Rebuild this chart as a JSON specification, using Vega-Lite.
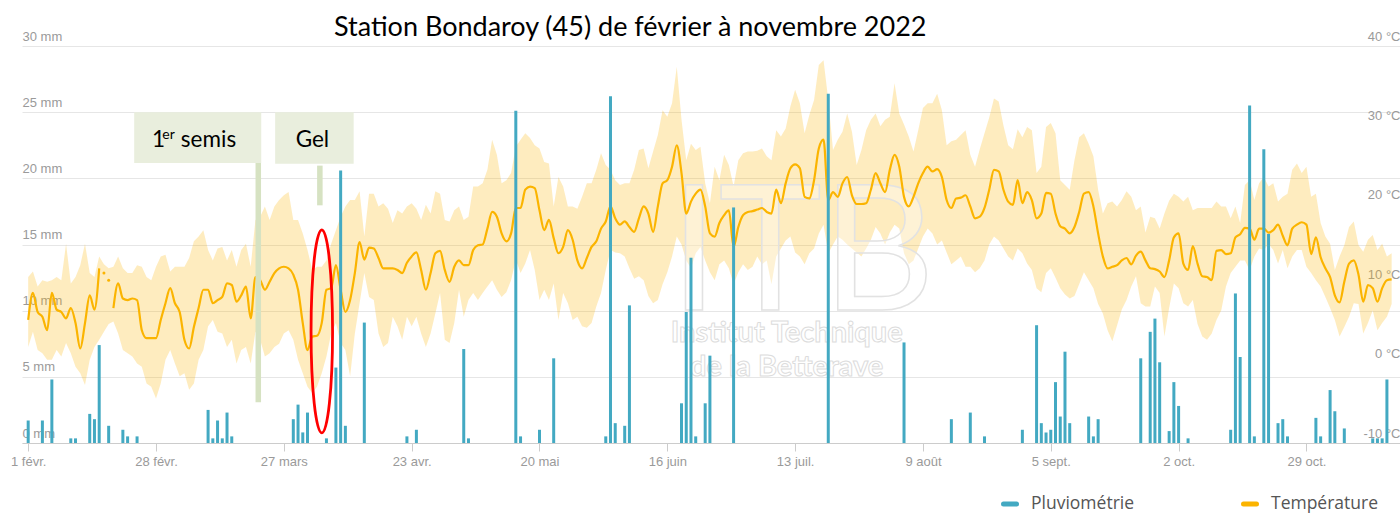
{
"$schema":"https://vega.github.io/schema/vega-lite/v6.json",
"width":1378,"height":397,
"autosize":{"type":"none"},
"padding":{"left":22,"top":46,"right":0,"bottom":70},
"background":"white",
"config":{"view":{"stroke":null},"font":"Liberation Sans"},
"title":{"text":"Station Bondaroy (45) de février à novembre 2022","anchor":"start","frame":"group","dx":312,"font":"Lato","fontSize":27,"fontWeight":"normal","color":"#000000","offset":-33,"baseline":"alphabetic"},
"datasets":{
"temp":[
{"d":"2022-02-01","t":5.5,"lo":2.1,"hi":10.9},{"d":"2022-02-02","t":8.9,"lo":4.0,"hi":11.6},{"d":"2022-02-03","t":6.5,"lo":1.7,"hi":9.7},{"d":"2022-02-04","t":5.9,"lo":1.3,"hi":10.5},{"d":"2022-02-05","t":4.2,"lo":0.5,"hi":10.3},{"d":"2022-02-06","t":8.9,"lo":0.5,"hi":10.5},{"d":"2022-02-07","t":6.8,"lo":1.7,"hi":10.9},{"d":"2022-02-08","t":6.5,"lo":0.9,"hi":10.5},{"d":"2022-02-09","t":5.7,"lo":2.6,"hi":15.1},{"d":"2022-02-10","t":7.0,"lo":1.3,"hi":10.1},{"d":"2022-02-11","t":5.1,"lo":-0.4,"hi":10.9},{"d":"2022-02-12","t":1.9,"lo":-1.2,"hi":12.4},{"d":"2022-02-13","t":5.1,"lo":-2.7,"hi":15.1},{"d":"2022-02-14","t":8.6,"lo":0.5,"hi":11.4},{"d":"2022-02-15","t":6.8,"lo":2.1,"hi":10.9},{"d":"2022-02-16","t":12.0,"lo":3.0,"hi":13.5},{"d":"2022-02-17","t":null,"lo":4.0,"hi":12.5},{"d":"2022-02-18","t":null,"lo":5.0,"hi":12.0},{"d":"2022-02-19","t":7.0,"lo":5.3,"hi":12.2},{"d":"2022-02-20","t":10.1,"lo":3.8,"hi":13.5},{"d":"2022-02-21","t":8.2,"lo":1.7,"hi":12.0},{"d":"2022-02-22","t":8.0,"lo":1.3,"hi":11.4},{"d":"2022-02-23","t":8.2,"lo":0.9,"hi":11.4},{"d":"2022-02-24","t":8.0,"lo":0.0,"hi":12.4},{"d":"2022-02-25","t":4.2,"lo":-0.4,"hi":12.2},{"d":"2022-02-26","t":3.2,"lo":-2.5,"hi":10.9},{"d":"2022-02-27","t":3.2,"lo":-2.9,"hi":10.5},{"d":"2022-02-28","t":3.2,"lo":-4.4,"hi":12.2},
{"d":"2022-03-01","t":5.5,"lo":-2.5,"hi":13.5},{"d":"2022-03-02","t":7.6,"lo":0.5,"hi":13.7},{"d":"2022-03-03","t":9.5,"lo":1.7,"hi":11.6},{"d":"2022-03-04","t":7.6,"lo":0.0,"hi":12.2},{"d":"2022-03-05","t":6.5,"lo":-1.6,"hi":12.2},{"d":"2022-03-06","t":3.0,"lo":-1.2,"hi":12.2},{"d":"2022-03-07","t":1.9,"lo":-3.3,"hi":13.3},{"d":"2022-03-08","t":4.6,"lo":-2.5,"hi":15.4},{"d":"2022-03-09","t":7.0,"lo":0.5,"hi":16.0},{"d":"2022-03-10","t":9.3,"lo":1.7,"hi":16.8},{"d":"2022-03-11","t":9.3,"lo":4.7,"hi":14.3},{"d":"2022-03-12","t":7.6,"lo":5.5,"hi":13.0},{"d":"2022-03-13","t":8.0,"lo":4.0,"hi":14.5},{"d":"2022-03-14","t":8.4,"lo":3.8,"hi":14.7},{"d":"2022-03-15","t":10.1,"lo":2.1,"hi":13.0},{"d":"2022-03-16","t":9.9,"lo":3.0,"hi":14.3},{"d":"2022-03-17","t":7.8,"lo":0.0,"hi":12.2},{"d":"2022-03-18","t":8.6,"lo":1.7,"hi":14.3},{"d":"2022-03-19","t":9.7,"lo":2.1,"hi":15.1},{"d":"2022-03-20","t":5.7,"lo":0.0,"hi":12.2},{"d":"2022-03-21","t":10.9,"lo":4.0,"hi":18.1},{"d":"2022-03-22","t":10.5,"lo":3.0,"hi":18.5},{"d":"2022-03-23","t":9.3,"lo":0.9,"hi":19.8},{"d":"2022-03-24","t":10.3,"lo":1.3,"hi":18.1},{"d":"2022-03-25","t":11.4,"lo":2.1,"hi":19.8},{"d":"2022-03-26","t":12.0,"lo":2.5,"hi":20.6},{"d":"2022-03-27","t":12.2,"lo":3.8,"hi":21.2},{"d":"2022-03-28","t":12.0,"lo":4.2,"hi":21.6},{"d":"2022-03-29","t":11.2,"lo":3.0,"hi":18.1},{"d":"2022-03-30","t":9.3,"lo":0.5,"hi":18.1},{"d":"2022-03-31","t":5.1,"lo":-1.2,"hi":16.4},
{"d":"2022-04-01","t":1.7,"lo":-2.9,"hi":14.3},{"d":"2022-04-02","t":3.4,"lo":-3.7,"hi":11.8},{"d":"2022-04-03","t":3.5,"lo":-2.9,"hi":12.2},{"d":"2022-04-04","t":5.1,"lo":-1.2,"hi":12.2},{"d":"2022-04-05","t":9.3,"lo":0.9,"hi":13.0},{"d":"2022-04-06","t":9.5,"lo":3.8,"hi":15.1},{"d":"2022-04-07","t":12.4,"lo":5.1,"hi":16.8},{"d":"2022-04-08","t":9.3,"lo":2.6,"hi":18.5},{"d":"2022-04-09","t":6.5,"lo":1.7,"hi":19.8},{"d":"2022-04-10","t":8.0,"lo":-1.6,"hi":20.6},{"d":"2022-04-11","t":11.4,"lo":3.8,"hi":20.6},{"d":"2022-04-12","t":15.3,"lo":7.6,"hi":21.7},{"d":"2022-04-13","t":13.1,"lo":11.4,"hi":16.0},{"d":"2022-04-14","t":14.6,"lo":8.4,"hi":21.4},{"d":"2022-04-15","t":14.5,"lo":8.0,"hi":21.4},{"d":"2022-04-16","t":13.3,"lo":3.8,"hi":19.8},{"d":"2022-04-17","t":12.0,"lo":2.1,"hi":20.2},{"d":"2022-04-18","t":12.0,"lo":2.6,"hi":19.5},{"d":"2022-04-19","t":12.0,"lo":5.9,"hi":17.7},{"d":"2022-04-20","t":11.8,"lo":4.7,"hi":19.3},{"d":"2022-04-21","t":11.4,"lo":3.0,"hi":18.9},{"d":"2022-04-22","t":12.7,"lo":5.9,"hi":19.8},{"d":"2022-04-23","t":13.5,"lo":4.7,"hi":20.2},{"d":"2022-04-24","t":14.0,"lo":5.9,"hi":19.5},{"d":"2022-04-25","t":11.8,"lo":3.8,"hi":18.1},{"d":"2022-04-26","t":9.3,"lo":2.1,"hi":20.0},{"d":"2022-04-27","t":11.4,"lo":3.8,"hi":18.9},{"d":"2022-04-28","t":13.9,"lo":6.3,"hi":21.7},{"d":"2022-04-29","t":14.2,"lo":8.9,"hi":21.4},{"d":"2022-04-30","t":11.8,"lo":3.0,"hi":18.1},
{"d":"2022-05-01","t":10.3,"lo":2.6,"hi":17.9},{"d":"2022-05-02","t":12.2,"lo":5.1,"hi":19.3},{"d":"2022-05-03","t":13.0,"lo":9.3,"hi":19.8},{"d":"2022-05-04","t":12.4,"lo":5.9,"hi":18.1},{"d":"2022-05-05","t":12.4,"lo":8.0,"hi":18.5},{"d":"2022-05-06","t":14.3,"lo":8.9,"hi":22.3},{"d":"2022-05-07","t":14.9,"lo":8.0,"hi":22.3},{"d":"2022-05-08","t":15.0,"lo":8.9,"hi":22.7},{"d":"2022-05-09","t":17.0,"lo":9.7,"hi":24.4},{"d":"2022-05-10","t":19.1,"lo":10.5,"hi":28.2},{"d":"2022-05-11","t":18.5,"lo":9.3,"hi":26.3},{"d":"2022-05-12","t":16.4,"lo":8.4,"hi":22.7},{"d":"2022-05-13","t":15.4,"lo":9.0,"hi":23.1},{"d":"2022-05-14","t":16.4,"lo":10.5,"hi":24.0},{"d":"2022-05-15","t":19.6,"lo":13.1,"hi":27.3},{"d":"2022-05-16","t":19.6,"lo":11.4,"hi":28.2},{"d":"2022-05-17","t":21.9,"lo":12.6,"hi":29.0},{"d":"2022-05-18","t":22.3,"lo":14.3,"hi":28.4},{"d":"2022-05-19","t":22.1,"lo":11.8,"hi":27.5},{"d":"2022-05-20","t":19.3,"lo":8.0,"hi":27.1},{"d":"2022-05-21","t":16.8,"lo":9.3,"hi":25.4},{"d":"2022-05-22","t":18.1,"lo":8.0,"hi":25.2},{"d":"2022-05-23","t":15.8,"lo":10.1,"hi":19.8},{"d":"2022-05-24","t":13.9,"lo":5.5,"hi":23.5},{"d":"2022-05-25","t":14.7,"lo":8.9,"hi":22.3},{"d":"2022-05-26","t":16.8,"lo":7.6,"hi":19.8},{"d":"2022-05-27","t":15.6,"lo":5.5,"hi":19.8},{"d":"2022-05-28","t":13.0,"lo":5.9,"hi":19.5},{"d":"2022-05-29","t":12.0,"lo":4.7,"hi":21.0},{"d":"2022-05-30","t":13.3,"lo":4.5,"hi":22.7},{"d":"2022-05-31","t":14.7,"lo":5.1,"hi":22.7},
{"d":"2022-06-01","t":15.4,"lo":7.2,"hi":24.4},{"d":"2022-06-02","t":17.0,"lo":8.9,"hi":26.5},{"d":"2022-06-03","t":17.9,"lo":11.8,"hi":25.0},{"d":"2022-06-04","t":19.8,"lo":14.3,"hi":24.4},{"d":"2022-06-05","t":18.3,"lo":14.0,"hi":23.1},{"d":"2022-06-06","t":17.5,"lo":13.9,"hi":22.5},{"d":"2022-06-07","t":17.9,"lo":13.5,"hi":22.7},{"d":"2022-06-08","t":17.2,"lo":12.0,"hi":22.7},{"d":"2022-06-09","t":16.6,"lo":10.7,"hi":24.4},{"d":"2022-06-10","t":18.3,"lo":11.0,"hi":26.9},{"d":"2022-06-11","t":19.8,"lo":10.5,"hi":27.1},{"d":"2022-06-12","t":18.9,"lo":8.5,"hi":24.6},{"d":"2022-06-13","t":16.6,"lo":7.6,"hi":26.7},{"d":"2022-06-14","t":19.8,"lo":8.0,"hi":28.8},{"d":"2022-06-15","t":22.7,"lo":10.0,"hi":31.9},{"d":"2022-06-16","t":23.1,"lo":11.5,"hi":31.1},{"d":"2022-06-17","t":24.8,"lo":13.5,"hi":32.8},{"d":"2022-06-18","t":27.5,"lo":16.0,"hi":37.4},{"d":"2022-06-19","t":24.0,"lo":15.0,"hi":30.7},{"d":"2022-06-20","t":18.9,"lo":13.0,"hi":25.6},{"d":"2022-06-21","t":20.4,"lo":12.0,"hi":27.7},{"d":"2022-06-22","t":21.4,"lo":13.9,"hi":26.9},{"d":"2022-06-23","t":21.9,"lo":14.7,"hi":27.3},{"d":"2022-06-24","t":19.8,"lo":13.0,"hi":22.7},{"d":"2022-06-25","t":16.4,"lo":11.5,"hi":20.2},{"d":"2022-06-26","t":16.0,"lo":10.5,"hi":24.8},{"d":"2022-06-27","t":17.7,"lo":12.5,"hi":23.1},{"d":"2022-06-28","t":18.7,"lo":13.0,"hi":26.3},{"d":"2022-06-29","t":19.3,"lo":12.0,"hi":25.0},{"d":"2022-06-30","t":14.7,"lo":10.0,"hi":22.3},
{"d":"2022-07-01","t":17.2,"lo":11.5,"hi":25.6},{"d":"2022-07-02","t":18.7,"lo":12.5,"hi":26.5},{"d":"2022-07-03","t":19.1,"lo":11.8,"hi":26.7},{"d":"2022-07-04","t":19.2,"lo":12.2,"hi":26.7},{"d":"2022-07-05","t":19.4,"lo":13.5,"hi":26.8},{"d":"2022-07-06","t":19.6,"lo":12.5,"hi":27.1},{"d":"2022-07-07","t":19.1,"lo":13.0,"hi":26.1},{"d":"2022-07-08","t":18.9,"lo":10.0,"hi":25.6},{"d":"2022-07-09","t":21.9,"lo":13.5,"hi":29.4},{"d":"2022-07-10","t":20.2,"lo":14.5,"hi":28.6},{"d":"2022-07-11","t":22.7,"lo":15.5,"hi":29.6},{"d":"2022-07-12","t":24.6,"lo":16.0,"hi":32.4},{"d":"2022-07-13","t":25.1,"lo":14.0,"hi":34.5},{"d":"2022-07-14","t":24.6,"lo":13.5,"hi":32.8},{"d":"2022-07-15","t":21.0,"lo":12.5,"hi":29.0},{"d":"2022-07-16","t":20.8,"lo":13.9,"hi":31.3},{"d":"2022-07-17","t":23.1,"lo":14.5,"hi":33.2},{"d":"2022-07-18","t":27.1,"lo":16.4,"hi":37.6},{"d":"2022-07-19","t":28.2,"lo":17.5,"hi":38.2},{"d":"2022-07-20","t":20.6,"lo":13.9,"hi":33.2},{"d":"2022-07-21","t":21.6,"lo":15.0,"hi":26.9},{"d":"2022-07-22","t":21.0,"lo":16.0,"hi":28.2},{"d":"2022-07-23","t":22.7,"lo":15.6,"hi":29.2},{"d":"2022-07-24","t":23.5,"lo":15.0,"hi":31.5},{"d":"2022-07-25","t":21.2,"lo":14.5,"hi":29.2},{"d":"2022-07-26","t":20.1,"lo":14.0,"hi":25.0},{"d":"2022-07-27","t":20.1,"lo":13.5,"hi":26.9},{"d":"2022-07-28","t":20.2,"lo":14.5,"hi":29.4},{"d":"2022-07-29","t":21.9,"lo":15.6,"hi":30.7},{"d":"2022-07-30","t":24.0,"lo":17.2,"hi":31.5},{"d":"2022-07-31","t":22.7,"lo":16.4,"hi":29.9},
{"d":"2022-08-01","t":21.6,"lo":15.0,"hi":30.7},{"d":"2022-08-02","t":24.4,"lo":16.5,"hi":31.1},{"d":"2022-08-03","t":26.3,"lo":17.5,"hi":35.3},{"d":"2022-08-04","t":24.8,"lo":17.0,"hi":31.5},{"d":"2022-08-05","t":21.0,"lo":13.9,"hi":30.1},{"d":"2022-08-06","t":19.8,"lo":12.5,"hi":28.6},{"d":"2022-08-07","t":21.0,"lo":13.0,"hi":26.7},{"d":"2022-08-08","t":22.7,"lo":14.5,"hi":29.4},{"d":"2022-08-09","t":24.0,"lo":16.0,"hi":32.2},{"d":"2022-08-10","t":24.8,"lo":17.0,"hi":32.8},{"d":"2022-08-11","t":24.2,"lo":16.4,"hi":32.8},{"d":"2022-08-12","t":24.5,"lo":15.0,"hi":34.0},{"d":"2022-08-13","t":23.5,"lo":15.5,"hi":31.9},{"d":"2022-08-14","t":20.6,"lo":14.0,"hi":27.5},{"d":"2022-08-15","t":19.6,"lo":12.5,"hi":28.0},{"d":"2022-08-16","t":20.8,"lo":13.0,"hi":28.2},{"d":"2022-08-17","t":20.9,"lo":13.5,"hi":28.8},{"d":"2022-08-18","t":21.2,"lo":12.2,"hi":29.4},{"d":"2022-08-19","t":19.8,"lo":12.2,"hi":26.3},{"d":"2022-08-20","t":18.3,"lo":11.5,"hi":24.8},{"d":"2022-08-21","t":18.5,"lo":12.0,"hi":27.0},{"d":"2022-08-22","t":19.6,"lo":13.0,"hi":29.0},{"d":"2022-08-23","t":21.9,"lo":15.0,"hi":31.0},{"d":"2022-08-24","t":24.4,"lo":16.0,"hi":33.4},{"d":"2022-08-25","t":24.2,"lo":15.5,"hi":33.0},{"d":"2022-08-26","t":21.9,"lo":14.5,"hi":30.0},{"d":"2022-08-27","t":20.4,"lo":13.5,"hi":27.5},{"d":"2022-08-28","t":20.0,"lo":13.0,"hi":27.0},{"d":"2022-08-29","t":23.1,"lo":14.5,"hi":29.5},{"d":"2022-08-30","t":20.2,"lo":13.9,"hi":28.5},{"d":"2022-08-31","t":21.6,"lo":12.6,"hi":29.8},
{"d":"2022-09-01","t":20.6,"lo":11.8,"hi":29.4},{"d":"2022-09-02","t":18.3,"lo":9.5,"hi":24.0},{"d":"2022-09-03","t":18.9,"lo":9.0,"hi":24.8},{"d":"2022-09-04","t":21.5,"lo":11.4,"hi":29.8},{"d":"2022-09-05","t":21.4,"lo":12.0,"hi":30.3},{"d":"2022-09-06","t":18.9,"lo":10.8,"hi":29.0},{"d":"2022-09-07","t":17.3,"lo":9.5,"hi":23.1},{"d":"2022-09-08","t":17.0,"lo":8.7,"hi":22.5},{"d":"2022-09-09","t":16.4,"lo":8.2,"hi":21.9},{"d":"2022-09-10","t":17.2,"lo":8.5,"hi":25.6},{"d":"2022-09-11","t":19.1,"lo":10.0,"hi":28.5},{"d":"2022-09-12","t":21.4,"lo":11.5,"hi":29.0},{"d":"2022-09-13","t":21.6,"lo":10.5,"hi":27.7},{"d":"2022-09-14","t":19.8,"lo":9.5,"hi":26.1},{"d":"2022-09-15","t":16.4,"lo":7.5,"hi":21.9},{"d":"2022-09-16","t":13.5,"lo":6.3,"hi":18.9},{"d":"2022-09-17","t":12.0,"lo":4.2,"hi":20.2},{"d":"2022-09-18","t":12.2,"lo":2.8,"hi":20.4},{"d":"2022-09-19","t":12.4,"lo":4.8,"hi":19.8},{"d":"2022-09-20","t":13.0,"lo":6.8,"hi":20.6},{"d":"2022-09-21","t":13.3,"lo":8.0,"hi":21.7},{"d":"2022-09-22","t":12.5,"lo":9.7,"hi":21.0},{"d":"2022-09-23","t":13.6,"lo":11.0,"hi":19.3},{"d":"2022-09-24","t":14.1,"lo":7.6,"hi":19.8},{"d":"2022-09-25","t":13.0,"lo":7.2,"hi":16.5},{"d":"2022-09-26","t":12.0,"lo":7.2,"hi":18.5},{"d":"2022-09-27","t":11.9,"lo":9.7,"hi":18.3},{"d":"2022-09-28","t":11.6,"lo":8.9,"hi":17.0},{"d":"2022-09-29","t":10.9,"lo":3.4,"hi":18.9},{"d":"2022-09-30","t":13.0,"lo":7.0,"hi":20.5},
{"d":"2022-10-01","t":15.9,"lo":10.1,"hi":21.4},{"d":"2022-10-02","t":16.4,"lo":9.5,"hi":21.0},{"d":"2022-10-03","t":12.6,"lo":7.6,"hi":20.4},{"d":"2022-10-04","t":11.8,"lo":7.2,"hi":21.0},{"d":"2022-10-05","t":14.8,"lo":8.0,"hi":19.3},{"d":"2022-10-06","t":12.6,"lo":5.0,"hi":19.6},{"d":"2022-10-07","t":11.0,"lo":3.4,"hi":19.6},{"d":"2022-10-08","t":10.9,"lo":3.0,"hi":19.6},{"d":"2022-10-09","t":10.5,"lo":3.8,"hi":19.6},{"d":"2022-10-10","t":14.2,"lo":5.5,"hi":20.4},{"d":"2022-10-11","t":14.3,"lo":6.7,"hi":19.8},{"d":"2022-10-12","t":13.8,"lo":9.7,"hi":19.8},{"d":"2022-10-13","t":13.9,"lo":11.4,"hi":18.3},{"d":"2022-10-14","t":15.9,"lo":12.2,"hi":19.8},{"d":"2022-10-15","t":16.3,"lo":13.0,"hi":17.7},{"d":"2022-10-16","t":17.1,"lo":13.0,"hi":22.5},{"d":"2022-10-17","t":17.0,"lo":11.8,"hi":23.1},{"d":"2022-10-18","t":15.6,"lo":13.5,"hi":20.6},{"d":"2022-10-19","t":17.0,"lo":14.5,"hi":22.7},{"d":"2022-10-20","t":17.0,"lo":14.3,"hi":23.5},{"d":"2022-10-21","t":16.5,"lo":15.1,"hi":22.3},{"d":"2022-10-22","t":16.8,"lo":14.3,"hi":22.7},{"d":"2022-10-23","t":17.5,"lo":12.6,"hi":20.4},{"d":"2022-10-24","t":16.1,"lo":14.3,"hi":21.0},{"d":"2022-10-25","t":14.9,"lo":12.0,"hi":21.4},{"d":"2022-10-26","t":17.0,"lo":13.5,"hi":24.4},{"d":"2022-10-27","t":17.5,"lo":14.3,"hi":25.2},{"d":"2022-10-28","t":17.8,"lo":14.3,"hi":24.0},{"d":"2022-10-29","t":17.5,"lo":12.2,"hi":24.8},{"d":"2022-10-30","t":13.8,"lo":11.4,"hi":21.0},{"d":"2022-10-31","t":15.9,"lo":10.5,"hi":21.4},
{"d":"2022-11-01","t":13.4,"lo":9.7,"hi":17.7},{"d":"2022-11-02","t":12.0,"lo":8.4,"hi":16.0},{"d":"2022-11-03","t":10.9,"lo":7.0,"hi":15.1},{"d":"2022-11-04","t":8.6,"lo":5.5,"hi":11.8},{"d":"2022-11-05","t":7.7,"lo":3.4,"hi":13.5},{"d":"2022-11-06","t":10.3,"lo":4.6,"hi":14.9},{"d":"2022-11-07","t":12.6,"lo":5.9,"hi":17.2},{"d":"2022-11-08","t":13.0,"lo":7.6,"hi":17.9},{"d":"2022-11-09","t":11.2,"lo":7.5,"hi":14.9},{"d":"2022-11-10","t":7.8,"lo":3.8,"hi":14.1},{"d":"2022-11-11","t":9.9,"lo":5.1,"hi":15.6},{"d":"2022-11-12","t":9.5,"lo":6.7,"hi":16.2},{"d":"2022-11-13","t":7.8,"lo":4.2,"hi":14.3},{"d":"2022-11-14","t":9.5,"lo":5.1,"hi":15.1},{"d":"2022-11-15","t":10.5,"lo":5.9,"hi":13.5},{"d":"2022-11-16","t":10.6,"lo":7.5,"hi":13.9}
],
"gap":[{"d":"2022-02-17","t":11.4},{"d":"2022-02-18","t":10.5}],
"rain":[
{"d":"2022-02-01","mm":1.7},{"d":"2022-02-04","mm":1.7},{"d":"2022-02-06","mm":4.8},{"d":"2022-02-10","mm":0.35},{"d":"2022-02-11","mm":0.35},{"d":"2022-02-14","mm":2.2},{"d":"2022-02-15","mm":1.8},{"d":"2022-02-16","mm":7.4},{"d":"2022-02-18","mm":1.3},{"d":"2022-02-21","mm":1.0},{"d":"2022-02-22","mm":0.5},{"d":"2022-02-24","mm":0.5},
{"d":"2022-03-11","mm":2.5},{"d":"2022-03-12","mm":0.35},{"d":"2022-03-13","mm":1.7},{"d":"2022-03-14","mm":0.35},{"d":"2022-03-15","mm":2.3},{"d":"2022-03-16","mm":0.5},{"d":"2022-03-29","mm":1.8},{"d":"2022-03-30","mm":2.9},{"d":"2022-03-31","mm":0.8},
{"d":"2022-04-01","mm":2.3},{"d":"2022-04-05","mm":0.35},{"d":"2022-04-07","mm":5.7},{"d":"2022-04-08","mm":20.6},{"d":"2022-04-09","mm":1.3},{"d":"2022-04-13","mm":9.1},{"d":"2022-04-22","mm":0.5},{"d":"2022-04-24","mm":1.0},
{"d":"2022-05-04","mm":7.1},{"d":"2022-05-05","mm":0.35},{"d":"2022-05-15","mm":25.1},{"d":"2022-05-16","mm":0.5},{"d":"2022-05-20","mm":1.0},{"d":"2022-05-23","mm":6.4},
{"d":"2022-06-03","mm":0.5},{"d":"2022-06-04","mm":26.2},{"d":"2022-06-05","mm":1.5},{"d":"2022-06-07","mm":1.3},{"d":"2022-06-08","mm":10.4},{"d":"2022-06-19","mm":3.0},{"d":"2022-06-20","mm":9.9},{"d":"2022-06-21","mm":14.0},{"d":"2022-06-22","mm":0.5},{"d":"2022-06-24","mm":3.0},{"d":"2022-06-25","mm":6.6},{"d":"2022-06-30","mm":17.8},
{"d":"2022-07-20","mm":26.4},
{"d":"2022-08-05","mm":7.6},{"d":"2022-08-15","mm":1.8},{"d":"2022-08-19","mm":2.3},{"d":"2022-08-22","mm":0.5},{"d":"2022-08-30","mm":1.0},
{"d":"2022-09-02","mm":8.9},{"d":"2022-09-03","mm":1.5},{"d":"2022-09-04","mm":0.8},{"d":"2022-09-05","mm":1.0},{"d":"2022-09-06","mm":4.6},{"d":"2022-09-07","mm":2.0},{"d":"2022-09-08","mm":6.9},{"d":"2022-09-09","mm":1.5},{"d":"2022-09-13","mm":2.0},{"d":"2022-09-14","mm":0.5},{"d":"2022-09-15","mm":1.8},{"d":"2022-09-24","mm":6.4},{"d":"2022-09-26","mm":8.4},{"d":"2022-09-27","mm":9.4},{"d":"2022-09-28","mm":6.1},{"d":"2022-09-30","mm":0.9},
{"d":"2022-10-01","mm":4.6},{"d":"2022-10-02","mm":2.8},{"d":"2022-10-04","mm":0.35},{"d":"2022-10-13","mm":1.0},{"d":"2022-10-14","mm":11.3},{"d":"2022-10-15","mm":6.5},{"d":"2022-10-17","mm":25.5},{"d":"2022-10-18","mm":0.5},{"d":"2022-10-20","mm":22.2},{"d":"2022-10-21","mm":15.8},{"d":"2022-10-23","mm":1.5},{"d":"2022-10-24","mm":1.8},{"d":"2022-10-25","mm":0.5},{"d":"2022-10-31","mm":1.9},
{"d":"2022-11-01","mm":0.5},{"d":"2022-11-03","mm":4.0},{"d":"2022-11-04","mm":2.4},{"d":"2022-11-06","mm":1.1},{"d":"2022-11-12","mm":0.35},{"d":"2022-11-13","mm":0.35},{"d":"2022-11-14","mm":0.35},{"d":"2022-11-15","mm":4.8}
],
"boxes":[{"x1":"2022-02-23T09:20:00Z","x2":"2022-03-22T05:30:00Z","y1":21.15,"y2":25.0},{"x1":"2022-03-25T04:00:00Z","x2":"2022-04-10T18:00:00Z","y1":21.1,"y2":25.0}],
"stems":[{"x":"2022-03-21T14:30:00Z","y1":3.07,"y2":21.15},{"x":"2022-04-03T14:40:00Z","y1":17.96,"y2":20.96}],
"labels":[{"x":"2022-02-27T04:00:00Z","y":22.37,"txt":"1"},{"x":"2022-03-05T06:00:00Z","y":22.37,"txt":"semis"},{"x":"2022-03-29T12:00:00Z","y":22.37,"txt":"Gel"}],
"sup":[{"x":"2022-03-01T08:00:00Z","y":22.98,"txt":"er"}],
"ellipse":[{"x":"2022-04-04T00:30:00Z","y":8.43}],
"wm":[{"x":"2022-07-11T05:00:00Z","y":3.85,"txt":"Institut Technique"},{"x":"2022-07-11T05:00:00Z","y":-0.43,"txt":"de la Betterave"}],
"logo":[{"x":"2022-07-14T12:00:00Z","y":6.75,"txt":"ITB"}]
},
"layer":[
 {"data":{"name":"temp"},
  "mark":{"type":"area","fill":"#fbb400","fillOpacity":0.25,"interpolate":"linear"},
  "encoding":{
   "x":{"field":"d","type":"temporal","scale":{"type":"utc","domain":[1643652000000,1668618000000]},
        "axis":{"orient":"bottom","title":null,"grid":false,"values":[1643673600000,1646006400000,1648339200000,1650672000000,1653004800000,1655337600000,1657670400000,1660003200000,1662336000000,1664668800000,1667001600000],
        "labelExpr":"utcdate(datum.value) + ' ' + ['janv.','févr.','mars','avr.','mai','juin','juil.','août','sept.','oct.','nov.','déc.'][utcmonth(datum.value)]",
        "domainColor":"#cccccc","tickColor":"#cccccc","tickSize":8,"labelPadding":4,"labelFont":"Liberation Sans","labelFontSize":13,"labelColor":"#9a9a9a","labelFlush":false,"labelOverlap":false}},
   "y":{"field":"lo","type":"quantitative","scale":{"domain":[-10,40],"nice":false,"zero":false},
        "axis":{"orient":"right","title":null,"grid":false,"domain":false,"ticks":false,"values":[-10,0,10,20,30,40],"labelExpr":"datum.value + ' °C'","labelAlign":"right","labelBaseline":"bottom","labelPadding":0,"labelOffset":-3,"labelFont":"Liberation Sans","labelFontSize":13,"labelColor":"#9a9a9a"}},
   "y2":{"field":"hi"}}},
 {"data":{"name":"wm"},
  "mark":{"type":"text","font":"Lato","fontWeight":"bold","fontSize":29,"fill":"#ffffff","fillOpacity":0.55,"stroke":"#dcdcdc","strokeWidth":1,"align":"center","baseline":"middle"},
  "encoding":{"x":{"field":"x","type":"temporal","axis":{"title":null}},
   "y":{"field":"y","type":"quantitative","scale":{"domain":[-10,40],"nice":false,"zero":false},"axis":null},
   "text":{"field":"txt"}}},
 {"data":{"name":"logo"},
  "mark":{"type":"text","font":"Lato","fontWeight":"normal","fontSize":175,"fill":"#ffffff","fillOpacity":0.35,"stroke":"#e2e2e2","strokeWidth":1.5,"align":"center","baseline":"alphabetic"},
  "encoding":{"x":{"field":"x","type":"temporal","axis":{"title":null}},
   "y":{"field":"y","type":"quantitative","scale":{"domain":[-10,40],"nice":false,"zero":false},"axis":null},
   "text":{"field":"txt"}}},
 {"data":{"name":"temp"},
  "mark":{"type":"line","strokeWidth":2.2,"interpolate":"monotone","invalid":"break-paths-show-domains"},
  "encoding":{"x":{"field":"d","type":"temporal","axis":{"title":null}},
   "y":{"field":"t","type":"quantitative","scale":{"domain":[-10,40],"nice":false,"zero":false},"axis":null},
   "color":{"datum":"Température","scale":{"domain":["Pluviométrie","Température"],"range":["#43a9c2","#fbb400"]},
     "legend":{"title":null,"orient":"none","legendX":979,"legendY":449,"direction":"horizontal","symbolType":"stroke","symbolSize":169,"symbolStrokeWidth":5,"labelFont":"Open Sans","labelFontSize":17.5,"labelColor":"#555555","labelOffset":12,"columnPadding":98,"padding":0,
       "encode":{"symbols":{"update":{"stroke":{"scale":"color","field":"value"},"strokeCap":{"value":"round"},"strokeWidth":{"value":5},"opacity":{"value":1}}}}}}}},
 {"data":{"name":"gap"},
  "mark":{"type":"circle","size":9,"color":"#fbb400","opacity":1},
  "encoding":{"x":{"field":"d","type":"temporal","axis":{"title":null}},
   "y":{"field":"t","type":"quantitative","scale":{"domain":[-10,40],"nice":false,"zero":false},"axis":null}}},
 {"data":{"name":"rain"},
  "mark":{"type":"bar","width":3},
  "encoding":{"x":{"field":"d","type":"temporal","axis":{"title":null}},
   "y":{"field":"mm","type":"quantitative","scale":{"domain":[0,30],"nice":false,"zero":true},
     "axis":{"orient":"left","title":null,"grid":true,"gridColor":"#e6e6e6","domain":false,"ticks":false,"values":[0,5,10,15,20,25,30],"labelExpr":"datum.value + ' mm'","labelAlign":"left","labelBaseline":"bottom","labelPadding":0,"labelOffset":-3,"labelFont":"Liberation Sans","labelFontSize":13,"labelColor":"#9a9a9a"}},
   "color":{"datum":"Pluviométrie","scale":{"domain":["Pluviométrie","Température"],"range":["#43a9c2","#fbb400"]},
     "legend":{"title":null,"orient":"none","legendX":979,"legendY":449,"direction":"horizontal","symbolType":"stroke","symbolSize":169,"symbolStrokeWidth":5,"labelFont":"Open Sans","labelFontSize":17.5,"labelColor":"#555555","labelOffset":12,"columnPadding":98,"padding":0,
       "encode":{"symbols":{"update":{"stroke":{"scale":"color","field":"value"},"strokeCap":{"value":"round"},"strokeWidth":{"value":5},"opacity":{"value":1}}}}}}}},
 {"data":{"name":"boxes"},
  "mark":{"type":"rect","fill":"#e9eedd"},
  "encoding":{"x":{"field":"x1","type":"temporal","axis":{"title":null}},"x2":{"field":"x2"},
   "y":{"field":"y1","type":"quantitative","scale":{"domain":[0,30],"nice":false,"zero":true},"axis":null},"y2":{"field":"y2"}}},
 {"data":{"name":"stems"},
  "mark":{"type":"rule","stroke":"#d6e2c2","strokeWidth":5.5},
  "encoding":{"x":{"field":"x","type":"temporal","axis":{"title":null}},
   "y":{"field":"y1","type":"quantitative","scale":{"domain":[0,30],"nice":false,"zero":true},"axis":null},"y2":{"field":"y2"}}},
 {"data":{"name":"labels"},
  "mark":{"type":"text","font":"Lato","fontSize":22.5,"color":"#000000","align":"left","baseline":"alphabetic"},
  "encoding":{"x":{"field":"x","type":"temporal","axis":{"title":null}},
   "y":{"field":"y","type":"quantitative","scale":{"domain":[0,30],"nice":false,"zero":true},"axis":null},
   "text":{"field":"txt"}}},
 {"data":{"name":"sup"},
  "mark":{"type":"text","font":"Lato","fontSize":14,"color":"#000000","align":"left","baseline":"alphabetic"},
  "encoding":{"x":{"field":"x","type":"temporal","axis":{"title":null}},
   "y":{"field":"y","type":"quantitative","scale":{"domain":[0,30],"nice":false,"zero":true},"axis":null},
   "text":{"field":"txt"}}},
 {"data":{"name":"ellipse"},
  "mark":{"type":"point","shape":"M 0 -1 C 0.0585 -1 0.106 -0.5523 0.106 0 C 0.106 0.5523 0.0585 1 0 1 C -0.0585 1 -0.106 0.5523 -0.106 0 C -0.106 -0.5523 -0.0585 -1 0 -1 Z","size":41209,"filled":false,"stroke":"#ff0000","strokeWidth":2.8,"opacity":1},
  "encoding":{"x":{"field":"x","type":"temporal","axis":{"title":null}},
   "y":{"field":"y","type":"quantitative","scale":{"domain":[0,30],"nice":false,"zero":true},"axis":null}}}
],
"resolve":{"scale":{"y":"independent"},"axis":{"y":"independent"}}
}
